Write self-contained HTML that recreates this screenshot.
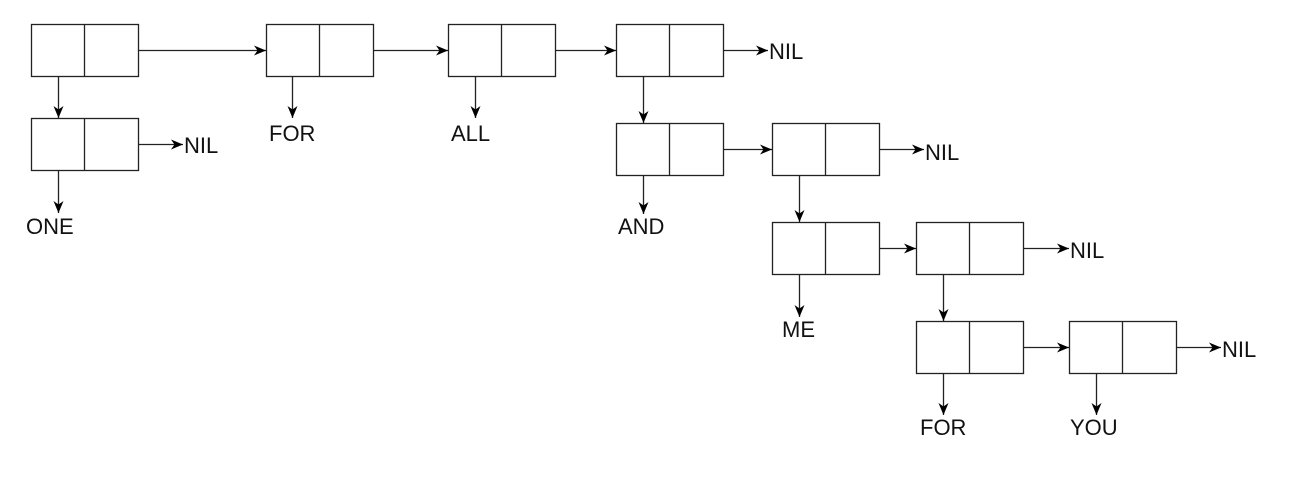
<!DOCTYPE html>
<html><head><style>body{margin:0;background:#fff}svg{display:block}text{font-family:"Liberation Sans",sans-serif;font-size:22px;fill:#111}</style></head>
<body>
<svg width="1294" height="492" viewBox="0 0 1294 492" xmlns="http://www.w3.org/2000/svg">
<defs><marker id="a" viewBox="0 0 12 10" refX="12" refY="5" markerWidth="12" markerHeight="10" markerUnits="userSpaceOnUse" orient="auto"><path d="M0,0 L12,5 L0,10 L3.5,5 z" fill="#000"/></marker></defs>
<g fill="#fff" stroke="#222" stroke-width="1.3">
<rect x="31.5" y="24.5" width="107" height="52"/><line x1="84.5" y1="24.5" x2="84.5" y2="76.5"/>
<rect x="266.5" y="24.5" width="107" height="52"/><line x1="319.5" y1="24.5" x2="319.5" y2="76.5"/>
<rect x="448.5" y="24.5" width="107" height="52"/><line x1="501.5" y1="24.5" x2="501.5" y2="76.5"/>
<rect x="616.5" y="24.5" width="107" height="52"/><line x1="669.5" y1="24.5" x2="669.5" y2="76.5"/>
<rect x="31.5" y="118.5" width="107" height="52"/><line x1="84.5" y1="118.5" x2="84.5" y2="170.5"/>
<rect x="616.5" y="123.5" width="107" height="52"/><line x1="669.5" y1="123.5" x2="669.5" y2="175.5"/>
<rect x="772.5" y="123.5" width="107" height="52"/><line x1="825.5" y1="123.5" x2="825.5" y2="175.5"/>
<rect x="772.5" y="222.5" width="107" height="52"/><line x1="825.5" y1="222.5" x2="825.5" y2="274.5"/>
<rect x="916.5" y="222.5" width="107" height="52"/><line x1="969.5" y1="222.5" x2="969.5" y2="274.5"/>
<rect x="916.5" y="321.5" width="107" height="52"/><line x1="969.5" y1="321.5" x2="969.5" y2="373.5"/>
<rect x="1069.5" y="321.5" width="107" height="52"/><line x1="1122.5" y1="321.5" x2="1122.5" y2="373.5"/>
</g>
<g stroke="#222" stroke-width="1.3" marker-end="url(#a)">
<line x1="138.5" y1="50.5" x2="266" y2="50.5"/>
<line x1="373.5" y1="50.5" x2="448" y2="50.5"/>
<line x1="555.5" y1="50.5" x2="616" y2="50.5"/>
<line x1="723.5" y1="50.5" x2="768" y2="50.5"/>
<line x1="58.5" y1="76.5" x2="58.5" y2="118"/>
<line x1="138.5" y1="144.5" x2="183" y2="144.5"/>
<line x1="58.5" y1="170.5" x2="58.5" y2="213"/>
<line x1="292.5" y1="76.5" x2="292.5" y2="118"/>
<line x1="475.5" y1="76.5" x2="475.5" y2="118"/>
<line x1="643.5" y1="76.5" x2="643.5" y2="123"/>
<line x1="643.5" y1="175.5" x2="643.5" y2="214"/>
<line x1="723.5" y1="149.5" x2="772" y2="149.5"/>
<line x1="879.5" y1="149.5" x2="924" y2="149.5"/>
<line x1="799.5" y1="175.5" x2="799.5" y2="222"/>
<line x1="799.5" y1="274.5" x2="799.5" y2="317"/>
<line x1="879.5" y1="248.5" x2="916" y2="248.5"/>
<line x1="1023.5" y1="248.5" x2="1069" y2="248.5"/>
<line x1="943.5" y1="274.5" x2="943.5" y2="321"/>
<line x1="943.5" y1="373.5" x2="943.5" y2="415"/>
<line x1="1023.5" y1="347.5" x2="1069" y2="347.5"/>
<line x1="1096.5" y1="373.5" x2="1096.5" y2="415"/>
<line x1="1176.5" y1="347.5" x2="1221" y2="347.5"/>
</g>
<text x="769" y="59">NIL</text>
<text x="184" y="153">NIL</text>
<text x="26" y="234">ONE</text>
<text x="269" y="141">FOR</text>
<text x="451" y="141">ALL</text>
<text x="618" y="234">AND</text>
<text x="925" y="160">NIL</text>
<text x="782" y="337">ME</text>
<text x="1070" y="258">NIL</text>
<text x="920" y="435">FOR</text>
<text x="1070" y="435">YOU</text>
<text x="1222" y="357">NIL</text>
</svg>
</body></html>
